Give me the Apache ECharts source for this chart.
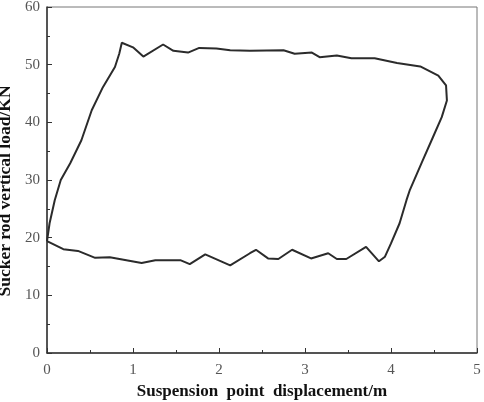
<!DOCTYPE html>
<html>
<head>
<meta charset="utf-8">
<script src="https://cdn.jsdelivr.net/npm/echarts@6/dist/echarts.min.js"></script>
<style>
  html, body { margin: 0; padding: 0; background: #fff; }
  #chart { width: 484px; height: 402px; }
</style>
</head>
<body>
<div id="chart"></div>
<script>
// indicator card loop: upstroke, top, right side, downstroke back to start
var dispX = [0, 0.03, 0.09, 0.16, 0.27, 0.40, 0.52, 0.65, 0.79, 0.84, 0.87, 1.0, 1.12, 1.35, 1.47, 1.64, 1.77, 1.97, 2.13, 2.36,
    2.75, 2.88, 3.08, 3.17, 3.37, 3.54, 3.81, 4.07, 4.34, 4.55, 4.64, 4.65, 4.59, 4.49, 4.36, 4.22, 4.18, 4.10, 4.0, 3.93, 3.86,
    3.71, 3.48, 3.37, 3.27, 3.07, 2.85, 2.69, 2.57, 2.43, 2.36, 2.13, 1.84, 1.66, 1.55, 1.26, 1.10, 0.73, 0.56, 0.36, 0.19, 0];
var loadY = [19.4, 22.5, 26.5, 30.0, 32.9, 36.9, 42.1, 46.1, 49.6, 51.9, 53.8, 53.0, 51.4, 53.5, 52.4, 52.1, 52.9, 52.8, 52.5, 52.4,
    52.5, 51.9, 52.1, 51.3, 51.6, 51.1, 51.1, 50.3, 49.7, 48.1, 46.4, 43.8, 40.9, 37.5, 33.1, 28.3, 26.5, 22.5, 19.0, 16.7, 15.9,
    18.4, 16.3, 16.3, 17.3, 16.4, 17.9, 16.3, 16.4, 17.9, 17.3, 15.2, 17.1, 15.4, 16.1, 16.1, 15.6, 16.6, 16.5, 17.7, 18.0, 19.4];

var xTicks = [0, 1, 2, 3, 4, 5];
var yTicks = [0, 10, 20, 30, 40, 50, 60];

var chart = echarts.init(document.getElementById('chart'));

var pts = [];
for (var i = 0; i < dispX.length; i++) {
    pts.push([dispX[i], loadY[i]]);
}

var tickFont = {
    color: '#555',
    fontFamily: 'Liberation Serif',
    fontSize: 15
};

var option = {
    backgroundColor: '#fff',
    animation: false,
    grid: {
        left: 47,
        right: 7,
        top: 7,
        bottom: 49,
        outerBoundsMode: 'none',
        containLabel: false,
        show: true,
        borderColor: '#777',
        borderWidth: 1
    },
    xAxis: {
        type: 'value',
        min: xTicks[0],
        max: xTicks[xTicks.length - 1],
        interval: 1,
        name: 'Suspension  point  displacement/m',
        nameLocation: 'middle',
        nameGap: 29,
        nameTextStyle: {
            color: '#111',
            fontFamily: 'Liberation Serif',
            fontWeight: 'bold',
            fontSize: 17
        },
        axisLine: { lineStyle: { color: '#333', width: 1.5 } },
        axisTick: { inside: true, length: 5, lineStyle: { color: '#333' } },
        minorTick: { show: true, splitNumber: 2, length: 3, lineStyle: { color: '#333' } },
        splitLine: { show: false },
        axisLabel: Object.assign({ margin: 10 }, tickFont)
    },
    yAxis: {
        type: 'value',
        min: yTicks[0],
        max: yTicks[yTicks.length - 1],
        interval: 10,
        name: 'Sucker rod vertical load/KN',
        nameLocation: 'middle',
        nameGap: 24,
        nameTextStyle: {
            color: '#111',
            fontFamily: 'Liberation Serif',
            fontWeight: 'bold',
            fontSize: 17.5,
            padding: [0, 22, 0, 0]
        },
        axisLine: { show: true, lineStyle: { color: '#333', width: 1.5 } },
        axisTick: { show: true, inside: true, length: 5, lineStyle: { color: '#333' } },
        minorTick: { show: true, splitNumber: 2, length: 3, lineStyle: { color: '#333' } },
        splitLine: { show: false },
        axisLabel: Object.assign({ margin: 7 }, tickFont)
    },
    series: [
        {
            type: 'line',
            data: pts,
            symbol: 'none',
            lineStyle: { color: '#2b2b2b', width: 2 }
        }
    ]
};

chart.setOption(option);
</script>
</body>
</html>
